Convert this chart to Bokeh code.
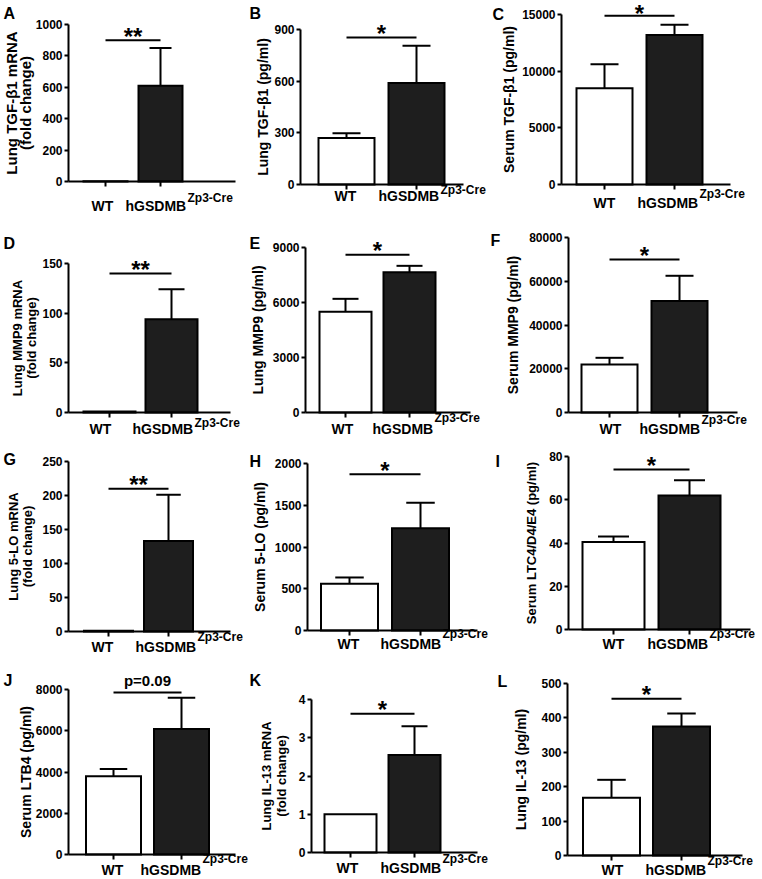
import math
from bokeh.plotting import figure
from bokeh.models import FixedTicker, NumeralTickFormatter, Range1d
from bokeh.layouts import gridplot
from bokeh.embed import file_html
from bokeh.resources import INLINE
from bokeh.core.properties import value

# ---------------- data ----------------
groups = ["WT", "hGSDMB"]
group_sup = "Zp3-Cre"
panel_letters = ["A", "B", "C", "D", "E", "F", "G", "H", "I", "J", "K", "L"]
y_titles = [
    ["Lung TGF-β1 mRNA", "(fold change)"],
    ["Lung TGF-β1 (pg/ml)"],
    ["Serum TGF-β1 (pg/ml)"],
    ["Lung MMP9 mRNA", "(fold change)"],
    ["Lung MMP9 (pg/ml)"],
    ["Serum MMP9 (pg/ml)"],
    ["Lung 5-LO mRNA", "(fold change)"],
    ["Serum 5-LO (pg/ml)"],
    ["Serum LTC4/D4/E4 (pg/ml)"],
    ["Serum LTB4 (pg/ml)"],
    ["Lung IL-13 mRNA", "(fold change)"],
    ["Lung IL-13 (pg/ml)"],
]
wt_mean = [1, 270, 8500, 1, 5500, 22000, 1, 560, 40.5, 3800, 1.0, 168]
wt_sem = [0, 27, 2100, 0, 700, 3000, 0, 75, 2.5, 350, 0, 52]
hg_mean = [610, 590, 13200, 94, 7650, 51000, 133, 1225, 62, 6080, 2.55, 375]
hg_sem = [240, 215, 900, 30, 350, 11500, 68, 305, 7, 1520, 0.75, 38]
y_max = [1000, 900, 15000, 150, 9000, 80000, 250, 2000, 80, 8000, 4, 500]
y_ticks = [
    [0, 200, 400, 600, 800, 1000],
    [0, 300, 600, 900],
    [0, 5000, 10000, 15000],
    [0, 50, 100, 150],
    [0, 3000, 6000, 9000],
    [0, 20000, 40000, 60000, 80000],
    [0, 50, 100, 150, 200, 250],
    [0, 500, 1000, 1500, 2000],
    [0, 20, 40, 60, 80],
    [0, 2000, 4000, 6000, 8000],
    [0, 1, 2, 3, 4],
    [0, 100, 200, 300, 400, 500],
]
sig_text = ["**", "*", "*", "**", "*", "*", "**", "*", "*", "p=0.09", "*", "*"]
sig_level = [900, 853, 14900, 140, 8600, 70000, 210, 1870, 74, 7850, 3.63, 456]

# ---------------- layout (page pixels) ----------------
COL = [0, 248, 490, 762]
ROW = [0, 224, 444, 662, 879]

# axis_x, axis0_y, axistop_y, xaxis_end, c1, c2, bar_w
GEOM = [
    (68, 181, 24, 235, 105, 160, 44),
    (300, 184, 29, 463, 346, 416, 56),
    (561, 184, 14, 730, 604, 674, 56),
    (68, 412, 263, 230, 109, 171, 52),
    (305, 412, 247, 470, 345, 409, 52),
    (568, 412, 237, 737, 609, 679, 56),
    (68, 631, 461, 230, 108, 168, 49),
    (307, 630, 463, 477, 349, 420, 57),
    (568, 629, 456, 750, 613, 689, 62),
    (68, 854, 689, 235, 113, 181, 55),
    (311, 852, 699, 477, 350, 414, 52),
    (567, 855, 683, 742, 611, 681, 57),
]
TITLE_OFF = [(-57, -43), (-38,), (-53,), (-51, -37), (-48,), (-56,),
             (-55, -41), (-48,), (-37,), (-43,), (-45, -30), (-47,)]
TITLE_SIZE = [15, 14, 14, 13, 14, 14, 13, 14, 13, 14, 13, 14]
# letter: left x, visual centre y
LETTER_POS = [(3, 13), (249, 13), (492, 14), (3, 243), (249, 243), (490, 240),
              (3, 459), (249, 461), (495, 461), (3, 680), (249, 680), (497, 681)]
WT_DX = [-3, -1, 0, -9, -3, 1, -6, -1, 0, -1, -3, 1]
HG_DX = [-35, -38, -37, -39, -37, -40, -33, -40, -42, -41, -34, -36]
WT_BASE = [29, 16, 23, 21, 21, 21, 20, 18, 19, 20, 20, 19]
SUP_RISE = [9, 7, 10, 7, 12, 10, 11, 11, 11, 12, 10, 10]
STAR_LIFT = [4, 4, 2, 4, 4, 4, 4, 4, 4, 12, 4, 4]

FONT = "Liberation Sans"
HG_FILL = "#1e1e1e"
WT_FILL = "#ffffff"


def txt(p, x, y, t, size, align="left", angle=0.0):
    p.text(x=[x], y=[y], text=[t], angle=angle, text_align=align, text_baseline="middle",
           text_font=value(FONT), text_font_style="bold", text_font_size=size,
           text_color="black")


def make_panel(i):
    r, c = divmod(i, 3)
    ax, a0, at, xe, c1, c2, bw = GEOM[i]
    s = c2 - c1
    ppu = (a0 - at) / y_max[i]

    def X(px):
        return 1 + (px - c1) / s

    def Y(py):
        return (a0 - py) / ppu

    L, R, T, B = COL[c], COL[c + 1], ROW[r], ROW[r + 1]
    p = figure(width=R - L, height=B - T,
               x_range=Range1d(X(L), X(R)), y_range=Range1d(Y(B), Y(T)),
               output_backend="svg", toolbar_location=None, min_border=0,
               min_border_left=0, min_border_right=0, min_border_top=0, min_border_bottom=0)
    p.outline_line_color = None
    p.xgrid.visible = False
    p.ygrid.visible = False
    p.background_fill_color = "white"
    p.border_fill_color = "white"

    # y axis
    ya = p.yaxis[0]
    ya.fixed_location = X(ax)
    ya.bounds = (0, y_max[i])
    ya.ticker = FixedTicker(ticks=y_ticks[i])
    ya.formatter = NumeralTickFormatter(format="0")
    ya.major_label_text_font = FONT
    ya.major_label_text_font_style = "bold"
    ya.major_label_text_font_size = "12px"
    ya.major_label_text_color = "black"
    ya.major_label_standoff = 2
    ya.major_tick_out = 4
    ya.major_tick_in = 0
    ya.minor_tick_out = 0
    ya.minor_tick_in = 0
    ya.axis_line_width = 2
    ya.major_tick_line_width = 2
    ya.axis_line_color = "black"
    ya.major_tick_line_color = "black"

    # x axis
    xa = p.xaxis[0]
    xa.fixed_location = 0
    xa.bounds = (X(ax), X(xe))
    xa.ticker = FixedTicker(ticks=[1, 2])
    xa.major_label_overrides = {1: "", 2: ""}
    xa.major_label_text_font_size = "1px"
    xa.major_tick_out = 5
    xa.major_tick_in = 0
    xa.minor_tick_out = 0
    xa.minor_tick_in = 0
    xa.axis_line_width = 2
    xa.major_tick_line_width = 2
    xa.axis_line_color = "black"
    xa.major_tick_line_color = "black"

    bwu = bw / s
    capw = bwu * 0.5
    xs = [1, 2]
    means = [wt_mean[i], hg_mean[i]]
    sems = [wt_sem[i], hg_sem[i]]
    ex = [x for x, e in zip(xs, sems) if e > 0]
    em = [m for m, e in zip(means, sems) if e > 0]
    et = [m + e for m, e in zip(means, sems) if e > 0]
    p.segment(x0=ex, y0=em, x1=ex, y1=et, line_color="black", line_width=2)
    p.segment(x0=[x - capw / 2 for x in ex], y0=et, x1=[x + capw / 2 for x in ex], y1=et,
              line_color="black", line_width=2)
    p.vbar(x=xs, top=means, bottom=0, width=bwu, fill_color=[WT_FILL, HG_FILL],
           line_color="black", line_width=2, line_join="miter")

    # significance bracket
    p.segment(x0=[1], y0=[sig_level[i]], x1=[2], y1=[sig_level[i]],
              line_color="black", line_width=2)
    size = "15px" if sig_text[i].startswith("p") else "24px"
    txt(p, 1.5, sig_level[i] + STAR_LIFT[i] / ppu, sig_text[i], size, align="center")

    # panel letter
    lx, ly = LETTER_POS[i]
    txt(p, X(lx), Y(ly), panel_letters[i], "16px")

    # y-axis title
    for off, t in zip(TITLE_OFF[i], y_titles[i]):
        txt(p, X(ax + off), y_max[i] / 2, t, f"{TITLE_SIZE[i]}px", align="center",
            angle=math.pi / 2)

    # category labels
    yb = a0 + WT_BASE[i]
    txt(p, 1 + WT_DX[i] / s, Y(yb - 5), groups[0], "14px", align="center")
    txt(p, 2 + HG_DX[i] / s, Y(yb - 5), groups[1], "14px")
    txt(p, 2 + (HG_DX[i] + 62) / s, Y(yb - SUP_RISE[i] - 4), group_sup, "12px")
    return p


panels = [make_panel(i) for i in range(12)]
grid = gridplot([panels[0:3], panels[3:6], panels[6:9], panels[9:12]], toolbar_location=None)

open("out.html", "w").write(file_html(grid, INLINE))
